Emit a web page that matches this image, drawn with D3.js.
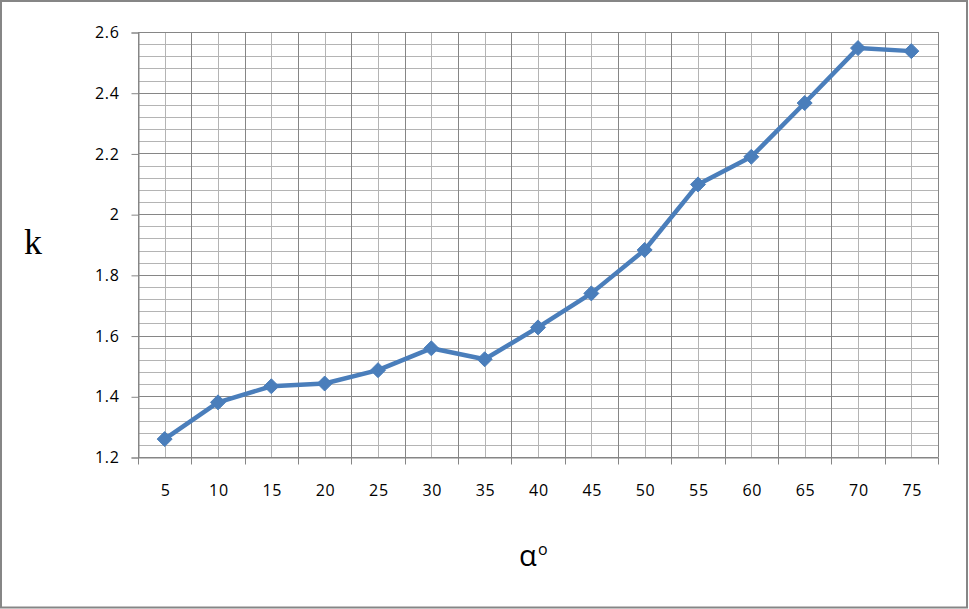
<!DOCTYPE html>
<html>
<head>
<meta charset="utf-8">
<script src="https://cdn.jsdelivr.net/npm/d3@7"></script>
<style>
  body { margin: 0; background: #fff; }
  svg { display: block; }
</style>
</head>
<body>
<script>
// angle categories and measured k
const angles = [5, 10, 15, 20, 25, 30, 35, 40, 45, 50, 55, 60, 65, 70, 75];
const kValues = [1.259, 1.380, 1.433, 1.442, 1.486, 1.558, 1.522, 1.627, 1.739, 1.882, 2.098, 2.189, 2.366, 2.547, 2.537];
const yTicks = [1.2, 1.4, 1.6, 1.8, 2, 2.2, 2.4, 2.6];

const W = 969, H = 609;
const plot = { left: 138, right: 938, top: 32, bottom: 457 };
const labelFont = '"Open Sans", Lato, sans-serif';

const svg = d3.select('body').append('svg')
  .attr('width', W)
  .attr('height', H);

// outer frame
svg.append('rect')
  .attr('x', 1).attr('y', 1)
  .attr('width', W - 3).attr('height', H - 2.5)
  .attr('fill', '#fff')
  .attr('stroke', '#868686')
  .attr('stroke-width', 2);

const x = d3.scaleBand()
  .domain(angles)
  .range([plot.left, plot.right]);

const y = d3.scaleLinear()
  .domain([1.2, 2.6])
  .range([plot.bottom, plot.top]);

/** grid */
const grid = svg.append('g').attr('class', 'grid');

// minor horizontal every 0.04
const minorY = d3.range(0, 36).map(i => 1.2 + i * 0.04).filter((v, i) => i % 5 !== 0);
grid.selectAll('line.hminor')
  .data(minorY)
  .enter().append('line')
  .attr('x1', plot.left).attr('x2', plot.right)
  .attr('y1', d => Math.round(y(d)) + 0.5)
  .attr('y2', d => Math.round(y(d)) + 0.5)
  .attr('stroke', '#b4b4b4');

// minor vertical at category centres
grid.selectAll('line.vminor')
  .data(angles)
  .enter().append('line')
  .attr('x1', d => Math.round(x(d) + x.bandwidth() / 2) + 0.5)
  .attr('x2', d => Math.round(x(d) + x.bandwidth() / 2) + 0.5)
  .attr('y1', plot.top).attr('y2', plot.bottom)
  .attr('stroke', '#b4b4b4');

// major horizontal
grid.selectAll('line.hmajor')
  .data(yTicks)
  .enter().append('line')
  .attr('x1', plot.left).attr('x2', plot.right)
  .attr('y1', d => Math.round(y(d)) + 0.5)
  .attr('y2', d => Math.round(y(d)) + 0.5)
  .attr('stroke', '#868686');

// major vertical at category boundaries
const bounds = angles.map(a => x(a)).concat([plot.right]);
grid.selectAll('line.vmajor')
  .data(bounds)
  .enter().append('line')
  .attr('x1', d => Math.round(d) + 0.5)
  .attr('x2', d => Math.round(d) + 0.5)
  .attr('y1', plot.top).attr('y2', plot.bottom)
  .attr('stroke', '#868686');

/** axes */
const yAxis = svg.append('g')
  .attr('transform', `translate(${plot.left + 0.5},0.5)`)
  .call(d3.axisLeft(y).tickValues(yTicks).tickSize(7).tickPadding(12)
    .tickFormat(d => d3.format('')(+d.toFixed(1))));
yAxis.select('.domain').attr('stroke', '#868686');
yAxis.selectAll('.tick line').attr('stroke', '#868686');
yAxis.selectAll('.tick text')
  .attr('font-family', labelFont)
  .attr('font-size', 16)
  .attr('letter-spacing', 0.7)
  .attr('fill', '#000');

const xAxis = svg.append('g')
  .attr('transform', `translate(0.5,${plot.bottom + 0.5})`)
  .call(d3.axisBottom(x).tickSize(0).tickPadding(27));
xAxis.select('.domain').attr('stroke', '#868686');
xAxis.selectAll('.tick text')
  .attr('font-family', labelFont)
  .attr('font-size', 16)
  .attr('letter-spacing', 0.7)
  .attr('dx', 0.4)
  .attr('fill', '#000');
xAxis.selectAll('line.bound')
  .data(bounds)
  .enter().append('line')
  .attr('x1', d => Math.round(d))
  .attr('x2', d => Math.round(d))
  .attr('y1', 0).attr('y2', 7)
  .attr('stroke', '#868686');

/** series */
const cx = d => x(d) + x.bandwidth() / 2;

svg.append('path')
  .datum(angles)
  .attr('fill', 'none')
  .attr('stroke', '#4a7ebb')
  .attr('stroke-width', 4.5)
  .attr('stroke-linejoin', 'round')
  .attr('d', d3.line().x(a => cx(a)).y((a, i) => y(kValues[i])));

svg.append('g')
  .selectAll('path')
  .data(angles)
  .enter().append('path')
  .attr('transform', (a, i) => `translate(${cx(a)},${y(kValues[i])})`)
  .attr('d', 'M0,-7.5L7.5,0L0,7.5L-7.5,0Z')
  .attr('fill', '#4a7ebb')
  .attr('stroke', '#4a7ebb')
  .attr('stroke-width', 1);

/** axis titles */
svg.append('text')
  .attr('x', 33).attr('y', 254)
  .attr('text-anchor', 'middle')
  .attr('font-family', '"Liberation Serif", "DejaVu Serif", serif')
  .attr('font-size', 36)
  .text('k');

svg.append('text')
  .attr('x', 519).attr('y', 566)
  .attr('font-family', labelFont)
  .attr('font-size', 29)
  .text('α');
svg.append('text')
  .attr('x', 538).attr('y', 555)
  .attr('font-family', labelFont)
  .attr('font-size', 16)
  .text('o');
</script>
</body>
</html>
